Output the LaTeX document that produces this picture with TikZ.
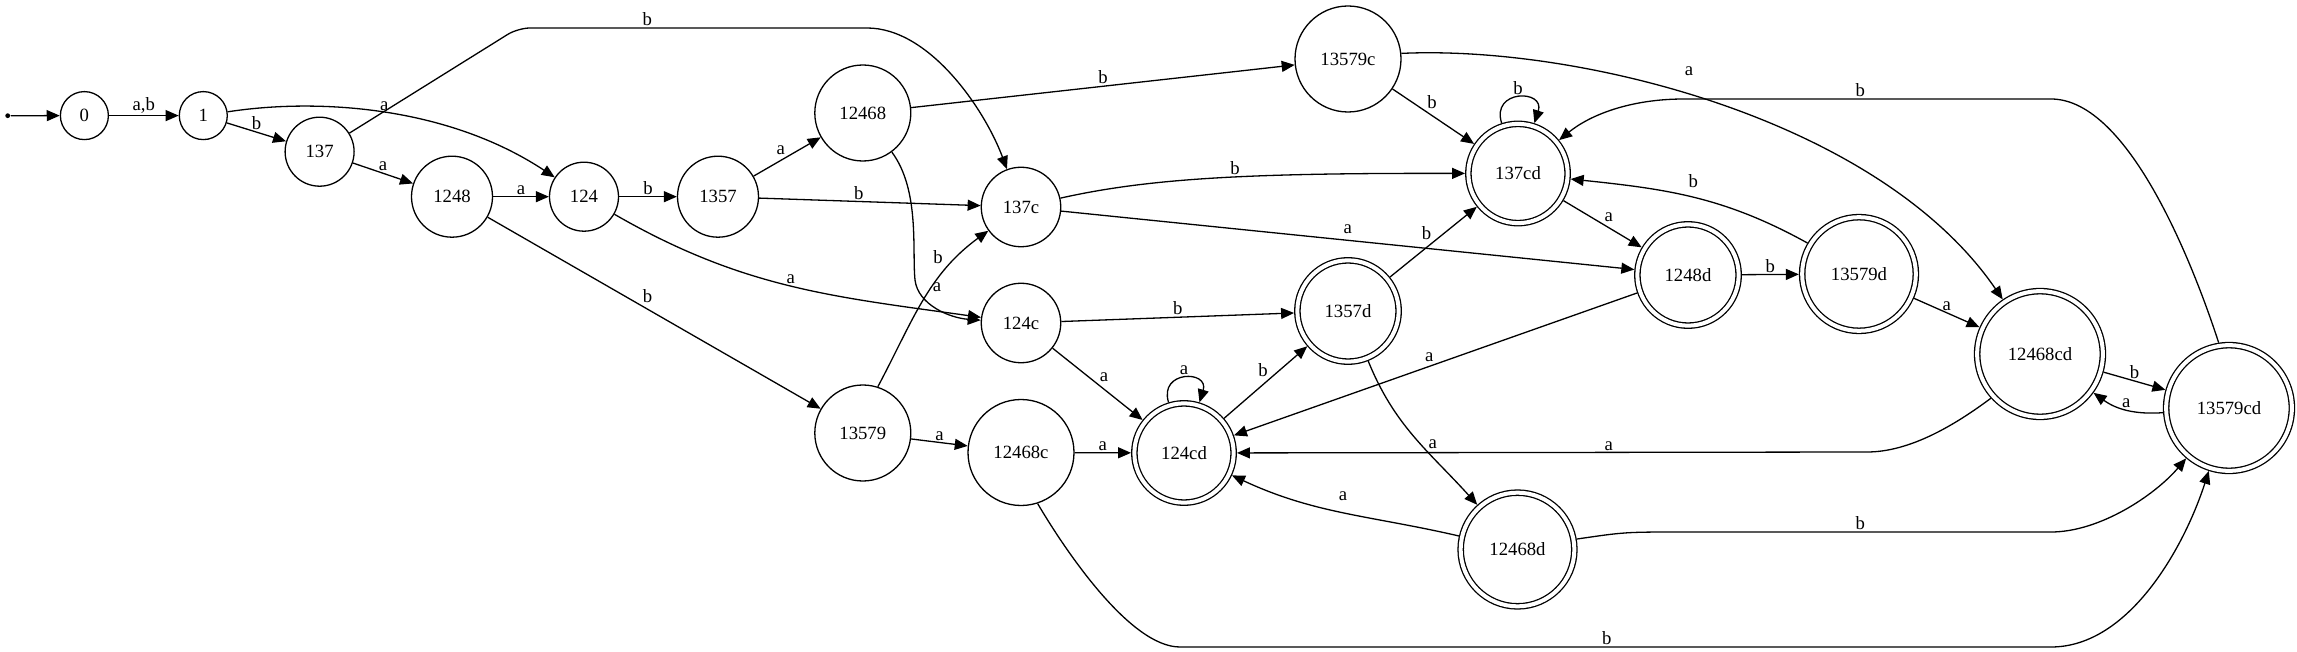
\documentclass[tikz,border=0pt]{standalone}
\usepackage{fontspec}
\setmainfont{Liberation Serif}
\usetikzlibrary{arrows.meta}

\begin{document}
\begin{tikzpicture}[x=1pt, y=1pt, line width=1.3pt,
		font=\fontsize{18.7}{22}\selectfont,
		estat/.style={circle, draw, inner sep=0pt},
		final/.style={estat, double, double distance=4pt, outer sep=3.3pt},
		trans/.style={-{Triangle[length=13pt, width=11pt]}},
		etiq/.style={inner sep=1.5pt}]
	\useasboundingbox (0,0) rectangle (2297,-652);
	%Estat inicial
	\node[circle, fill, inner sep=0pt, minimum size=4.8pt] (ini) at (7.7,-115.7) {};
	%Estats
	\node[estat, minimum size=48pt] (q0) at (84.4,-115.6) {0};
	\node[estat, minimum size=48pt] (q1) at (203.3,-115.6) {1};
	\node[estat, minimum size=69pt] (q137) at (319.6,-151.7) {137};
	\node[estat, minimum size=81pt] (q1248) at (452,-196.7) {1248};
	\node[estat, minimum size=69pt] (q124) at (584,-196.7) {124};
	\node[estat, minimum size=81pt] (q1357) at (718,-196.7) {1357};
	\node[estat, minimum size=96pt] (q12468) at (862.8,-113) {12468};
	\node[estat, minimum size=96pt] (q13579) at (862.8,-433) {13579};
	\node[estat, minimum size=79.5pt] (q137c) at (1021,-207) {137c};
	\node[estat, minimum size=79.5pt] (q124c) at (1021,-323) {124c};
	\node[estat, minimum size=106pt] (q12468c) at (1021,-452.5) {12468c};
	\node[estat, minimum size=106pt] (q13579c) at (1348,-59) {13579c};
	%Estats finals
	\node[final, minimum size=99.3pt] (q124cd) at (1184,-453) {124cd};
	\node[final, minimum size=101.3pt] (q1357d) at (1348,-311) {1357d};
	\node[final, minimum size=99.3pt] (q137cd) at (1518,-173.5) {137cd};
	\node[final, minimum size=113.7pt] (q12468d) at (1517.5,-549.5) {12468d};
	\node[final, minimum size=101.3pt] (q1248d) at (1688,-275) {1248d};
	\node[final, minimum size=113.7pt] (q13579d) at (1859,-274) {13579d};
	\node[final, minimum size=125.7pt] (q12468cd) at (2040,-354) {12468cd};
	\node[final, minimum size=125.7pt] (q13579cd) at (2229,-408) {13579cd};
	%Transicions
	\draw[trans] (ini) -- (q0);
	\draw[trans] (q0) -- node[etiq, above] {a,b} (q1);
	\draw[trans] (q1) -- node[etiq, above] {b} (q137);
	\draw[trans] (q1) .. controls (317,-98) and (447,-106) .. node[etiq, above] {a} (q124);
	\draw[trans] (q137) [rounded corners=12pt] -- (518,-28) -- node[etiq, above, pos=0.71] {b} (700,-28) [sharp corners] -- (867,-28) .. controls (930,-28) and (985,-110) .. (q137c);
	\draw[trans] (q137) -- node[etiq, above] {a} (q1248);
	\draw[trans] (q1248) -- node[etiq, above] {a} (q124);
	\draw[trans] (q1248) -- node[etiq, above=4pt, pos=0.48] {b} (q13579);
	\draw[trans] (q124) -- node[etiq, above] {b} (q1357);
	\draw[trans] (q124) to[out=-30, in=172] node[etiq, above] {a} (q124c);
	\draw[trans] (q1357) -- node[etiq, above left] {a} (q12468);
	\draw[trans] (q1357) -- node[etiq, above, pos=0.45] {b} (q137c);
	\draw[trans] (q12468) -- node[etiq, above] {b} (q13579c);
	\draw[trans] (q12468) .. controls (920,-190) and (912,-250) .. (915,-280) .. controls (918,-305) and (950,-318) .. node[etiq, right=14pt, pos=0.1] {a} (q124c);
	\draw[trans] (q13579.72) to[out=62, in=216] node[etiq, left=12pt, pos=0.8] {b} (q137c);
	\draw[trans] (q13579) -- node[etiq, above] {a} (q12468c);
	\draw[trans] (q137c) .. controls (1150,-178) and (1250,-173) .. node[etiq, above, pos=0.55] {b} (q137cd);
	\draw[trans] (q137c) -- node[etiq, above=4pt] {a} (q1248d);
	\draw[trans] (q124c) -- node[etiq, above] {b} (q1357d);
	\draw[trans] (q124c) -- node[etiq, above right] {a} (q124cd);
	\draw[trans] (q12468c) -- node[etiq, above] {a} (q124cd);
	\draw[trans] (q12468c.-72) .. controls (1065,-550) and (1130,-647) .. (1180,-647) -- node[etiq, above, pos=0.49] {b} (2051,-647) .. controls (2130,-647) and (2185,-545) .. (q13579cd);
	\draw[trans] (q13579c) -- node[etiq, above right, pos=0.4] {b} (q137cd);
	\draw[trans] (q13579c.6) .. controls (1580,-45) and (1880,-120) .. node[etiq, above=17pt, pos=0.45] {a} (q12468cd);
	\draw[trans] (q137cd) -- node[etiq, above right] {a} (q1248d);
	\draw[trans] (q124cd) -- node[etiq, above left, pos=0.55] {b} (q1357d);
	\draw[trans] (q1357d) -- node[etiq, above left] {b} (q137cd);
	\draw[trans] (q1357d) to[out=-68, in=132] node[etiq, right=6pt, pos=0.55] {a} (q12468d);
	\draw[trans] (q1248d) -- node[etiq, above] {b} (q13579d);
	\draw[trans] (q1248d) -- node[etiq, above left] {a} (q124cd);
	\draw[trans] (q13579d.149) to[out=151, in=-6] node[etiq, above=8pt] {b} (q137cd);
	\draw[trans] (q13579d) -- node[etiq, above] {a} (q12468cd);
	\draw[trans] (q12468d) to[out=167, in=-25] node[etiq, above=10pt] {a} (q124cd);
	\draw[trans] (q12468d.10) .. controls (1625,-532) .. (1684,-532) -- node[etiq, above, pos=0.48] {b} (2051,-532) .. controls (2100,-532) and (2155,-495) .. (q13579cd);
	\draw[trans] (q12468cd) -- node[etiq, above] {b} (q13579cd);
	\draw[trans] (q12468cd.222) .. controls (1955,-425) and (1910,-452) .. (1867,-452) -- node[etiq, above, pos=0.41] {a} (q124cd);
	\draw[trans] (q13579cd) to[bend left=20] node[etiq, above] {a} (q12468cd);
	\draw[trans] (q13579cd.99) .. controls (2195,-270) and (2130,-99) .. (2051,-99) -- node[etiq, above, pos=0.52] {b} (1684,-99) .. controls (1630,-99) and (1590,-115) .. (q137cd);
	%Bucles
	\draw[trans] (q137cd) to[out=108, in=72, looseness=2.8] node[etiq, above=1pt] {b} (q137cd);
	\draw[trans] (q124cd) to[out=107, in=73, looseness=2.8] node[etiq, above=1pt] {a} (q124cd);
\end{tikzpicture}
\end{document}
